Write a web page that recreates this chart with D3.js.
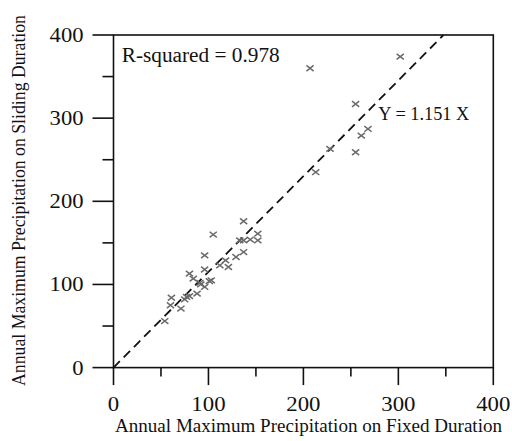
<!DOCTYPE html>
<html><head><meta charset="utf-8">
<script src="https://cdn.jsdelivr.net/npm/d3@7"></script>
<style>
html,body{margin:0;padding:0;background:#fff;}
svg text{font-family:"Liberation Serif","Times New Roman",serif;fill:#111;}
</style></head>
<body><svg id="c" width="512" height="441"></svg>
<script>
// Data
const fixedDuration   = [302,207,255,268,261,228,255,213,137,105,152,152,144,137,96,137,129,118,112,121,96,80,84,103,101,91,96,88,77,61,60,71,75,54,80,92,133];
const slidingDuration = [374,360,317,287,279,263,259,235,176,160,161,153,154,153,135,139,133,129,123,121,118,113,107,105,104,102,97,89,85,84,75,71,82,56,86,100,153];
const xTicks = [0,100,200,300,400];
const yTicks = [0,100,200,300,400];
const slope = 1.151;
const rSquaredLabel = "R-squared = 0.978";
const fitLabel = "Y = 1.151 X";
const xTitle = "Annual Maximum Precipitation on Fixed Duration";
const yTitle = "Annual Maximum Precipitation on Sliding Duration";

const svg = d3.select("#c");
const L=113.5, R=493.3, T=35, B=367.6;
const x = d3.scaleLinear().domain([0,400]).range([L,R]);
const y = d3.scaleLinear().domain([0,400]).range([B,T]);

// frame
svg.append("rect").attr("x",L).attr("y",T).attr("width",R-L).attr("height",B-T)
  .attr("fill","none").attr("stroke","#111").attr("stroke-width",1.6);

// x axis ticks
const minor = d3.range(0,401,50);
const xg = svg.append("g");
xg.selectAll("line").data(minor).join("line")
  .attr("x1",d=>x(d)).attr("x2",d=>x(d)).attr("y1",B)
  .attr("y2",d=>B+(d%100===0?17.5:9)).attr("stroke","#111").attr("stroke-width",1.6);
xg.selectAll("text").data(xTicks).join("text")
  .attr("x",d=>x(d)).attr("y",410.5).attr("text-anchor","middle")
  .attr("font-size",20).text(d=>d)
  .attr("textLength",d=>String(d).length*11.4).attr("lengthAdjust","spacingAndGlyphs");

// y axis ticks
const yg = svg.append("g");
yg.selectAll("line").data(minor).join("line")
  .attr("y1",d=>y(d)).attr("y2",d=>y(d)).attr("x1",L)
  .attr("x2",d=>L-(d%100===0?21:11)).attr("stroke","#111").attr("stroke-width",1.6);
yg.selectAll("text").data(yTicks).join("text")
  .attr("x",83.5).attr("y",d=>y(d)+7).attr("text-anchor","end")
  .attr("font-size",20.5).text(d=>d)
  .attr("textLength",d=>String(d).length*11.3).attr("lengthAdjust","spacingAndGlyphs");

// fit line
svg.append("line")
  .attr("x1",x(0)).attr("y1",y(0)).attr("x2",x(400/slope)).attr("y2",y(400))
  .attr("stroke","#111").attr("stroke-width",1.8).attr("stroke-dasharray","9,5.5");

// markers
const mx=3.6, my=2.8;
svg.append("g").selectAll("path").data(fixedDuration.map((d,i)=>[d,slidingDuration[i]])).join("path")
  .attr("d",d=>{const cx=x(d[0]),cy=y(d[1]);
     return `M${cx-mx},${cy-my}L${cx+mx},${cy+my}M${cx-mx},${cy+my}L${cx+mx},${cy-my}`;})
  .attr("stroke","#6a6a6a").attr("stroke-width",1.5).attr("fill","none");

// annotations
svg.append("text").attr("x",121.7).attr("y",61.5).attr("font-size",20.5)
  .attr("textLength",158).attr("lengthAdjust","spacingAndGlyphs").text(rSquaredLabel);
svg.append("text").attr("x",378.3).attr("y",120.3).attr("font-size",19)
  .attr("textLength",91).attr("lengthAdjust","spacingAndGlyphs").text(fitLabel);

// titles
svg.append("text").attr("x",308.5).attr("y",432).attr("text-anchor","middle").attr("font-size",19.5)
  .attr("textLength",387).attr("lengthAdjust","spacingAndGlyphs").text(xTitle);
svg.append("text").attr("transform","translate(24.5,200.5) rotate(-90)").attr("text-anchor","middle")
  .attr("font-size",19).attr("textLength",371).attr("lengthAdjust","spacingAndGlyphs").text(yTitle);
</script></body></html>
